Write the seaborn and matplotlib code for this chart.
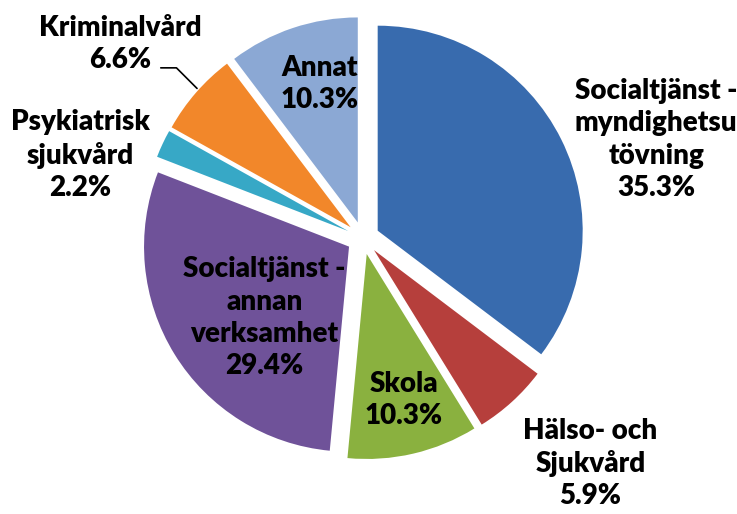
import matplotlib
matplotlib.use("Agg")
import matplotlib.pyplot as plt
import seaborn as sns

# Data (clockwise from 12 o'clock)
categories = ["Socialtjänst -\nmyndighetsu\ntövning", "Hälso- och\nSjukvård", "Skola",
              "Socialtjänst -\nannan\nverksamhet", "Psykiatrisk\nsjukvård", "Kriminalvård", "Annat"]
shares = [35.3, 5.9, 10.3, 29.4, 2.2, 6.6, 10.3]
colors = ["#386bae", "#b63f3c", "#8ab13f", "#6f5299", "#37a8c6", "#f2872a", "#8ba8d4"]

sns.set_theme(style="white")
plt.rcParams['font.family'] = ['Lato', 'DejaVu Sans']

fig = plt.figure(figsize=(7.37, 5.14), dpi=100)
ax = fig.add_axes([0, 0, 1, 1])

wedges, _ = ax.pie(shares, colors=colors, startangle=90, counterclock=False,
                   explode=[0.08] * len(shares), radius=1.0,
                   wedgeprops=dict(linewidth=0))

# label positions (data units) for each slice
label_pos = [(1.43, 0.48), (1.11, -1.10), (0.20, -0.79), (-0.48, -0.39),
             (-1.38, 0.405), (-1.185, 0.946), (-0.21, 0.751)]
for name, val, (lx, ly) in zip(categories, shares, label_pos):
    ax.text(lx, ly, f"{name}\n{val:.1f}%", ha="center", va="center",
            fontsize=20, fontweight="heavy", color="black", linespacing=1.3)

# leader line for Kriminalvård
ax.annotate("", xy=(-0.80, 0.72), xytext=(-1.0, 0.83),
            arrowprops=dict(arrowstyle="-", color="black", lw=1.2,
                            connectionstyle="angle,angleA=0,angleB=135,rad=0"))

ax.set_xlim(-363 / 205, (737 - 363) / 205)
ax.set_ylim(-276 / 205, 238 / 205)
ax.set_aspect("equal")
ax.axis("off")

fig.savefig("out.png", dpi=100)
